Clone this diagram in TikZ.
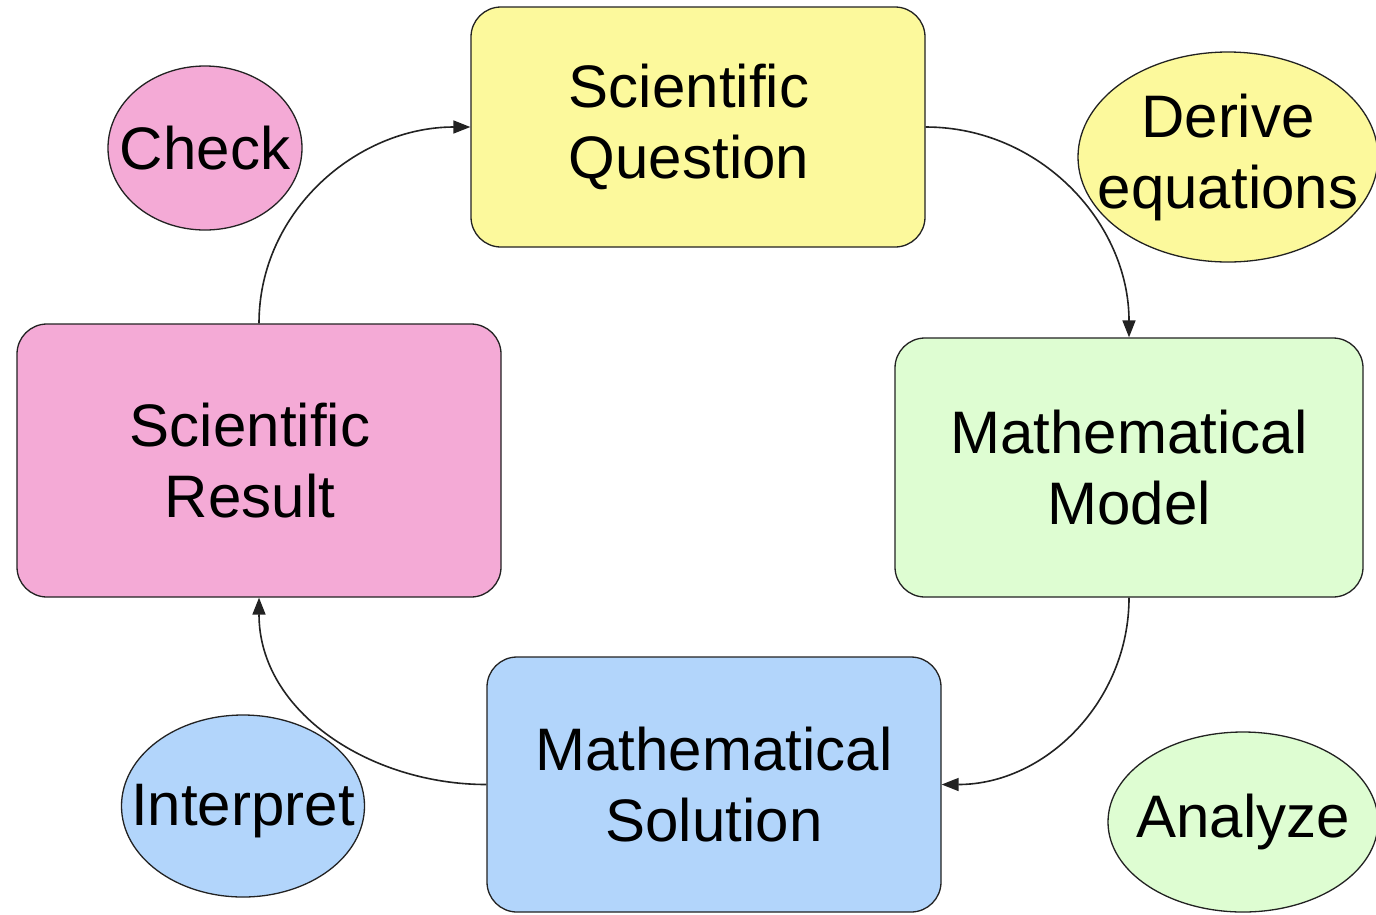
\documentclass[tikz,border=0pt]{standalone}
\usepackage{fontspec}
\setmainfont{Liberation Sans}
\usetikzlibrary{shapes.geometric,arrows.meta}
\definecolor{cyellow}{HTML}{FCF99C}
\definecolor{cgreen}{HTML}{DEFDD2}
\definecolor{cblue}{HTML}{B2D5FB}
\definecolor{cpink}{HTML}{F4AAD6}
\definecolor{cline}{HTML}{222222}
\tikzset{
  box/.style={draw=cline, line width=1.3pt, rounded corners=30pt, align=center, inner sep=0pt,
    font=\fontsize{60}{71}\selectfont},
  oval/.style={draw=cline, line width=1.3pt, ellipse, inner sep=0pt},
  ovaltext/.style={label={[align=center, inner sep=0pt, font=\fontsize{60}{71}\selectfont]center:#1}},
  flow/.style={draw=cline, line width=1.6pt, -{Triangle[length=17pt,width=13pt]}},
}
\begin{document}
\begin{tikzpicture}[x=1pt,y=1pt]
\useasboundingbox (0,0) rectangle (1376,-914);
\fill[white] (0,0) rectangle (1376,-914);
% boxes
\node[box, fill=cyellow, minimum width=454pt, minimum height=240pt, text width=454pt] (q) at (698,-127) {\hspace*{-18pt}Scientific\\\hspace*{-18pt}Question};
\node[box, fill=cgreen, minimum width=468pt, minimum height=259pt] (m) at (1129,-467.5) {Mathematical\\Model};
\node[box, fill=cblue, minimum width=454pt, minimum height=255pt] (s) at (714,-784.5) {Mathematical\\Solution};
\node[box, fill=cpink, minimum width=484pt, minimum height=273pt, text width=484pt] (r) at (259,-460.5) {\hspace*{-18pt}Scientific\\\hspace*{-18pt}Result};
% connectors
\draw[flow] (q.east) to[out=0,in=90] (m.north);
\draw[flow] (m.south) to[out=-90,in=0] (s.east);
\draw[flow] (s.west) to[out=180,in=-90] (r.south);
\draw[flow] (r.north) to[out=90,in=180] (q.west);
% ellipses
\node[oval, fill=cpink, minimum width=194pt, minimum height=164pt, ovaltext={Check}] (ch) at (205,-148) {};
\node[oval, fill=cyellow, minimum width=300pt, minimum height=210pt, ovaltext={Derive\\equations}] (de) at (1228,-157) {};
\node[oval, fill=cgreen, minimum width=270pt, minimum height=180pt, ovaltext={Analyze}] (an) at (1243,-822) {};
\node[oval, fill=cblue, minimum width=243pt, minimum height=182pt, label={[inner sep=0pt, font=\fontsize{60}{71}\selectfont, yshift=-5pt]center:Interpret}] (in) at (243,-806) {};
\end{tikzpicture}
\end{document}
